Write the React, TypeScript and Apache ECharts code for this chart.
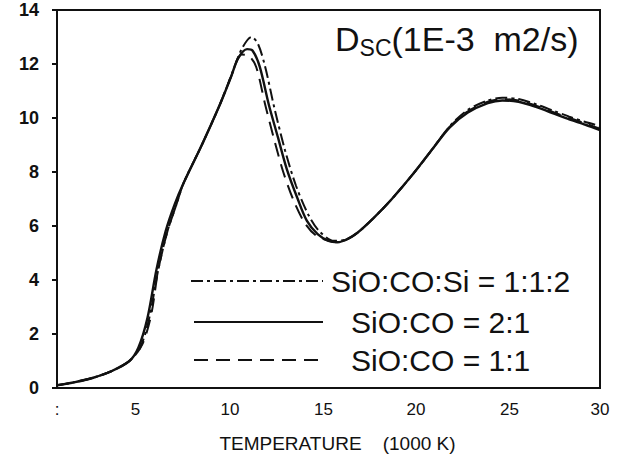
import React, { useEffect, useRef } from "react";
import * as echarts from "echarts";

// Temperature (1000 K) and Dsc (1E-3 m2/s)
const xSolid = [0, 1, 2, 3, 4, 4.5, 5, 5.5, 6, 6.5, 7, 8, 9, 9.6, 10, 10.5, 10.8, 11.2, 11.7, 12.2, 12.7, 13.3, 13.8, 14.4, 15, 15.5, 16, 16.6, 17.5, 18.5, 19.7, 20.8, 21.7, 22.7, 23.8, 24.6, 25.5, 26.5, 27.5, 28.3, 29.2, 30];
const ySolid = [0.1, 0.22, 0.38, 0.62, 1.0, 1.5, 2.6, 4.4, 5.8, 6.8, 7.6, 9.0, 10.5, 11.5, 12.2, 12.55, 12.5, 11.9, 10.5, 9.3, 8.1, 7.0, 6.2, 5.7, 5.45, 5.4, 5.5, 5.75, 6.3, 7.0, 7.95, 8.9, 9.65, 10.2, 10.55, 10.65, 10.6, 10.4, 10.15, 9.95, 9.75, 9.55];

const xDashDot = [0, 1, 2, 3, 4, 4.6, 5.1, 5.6, 6.1, 6.6, 7, 8, 9, 9.7, 10.2, 10.75, 11.1, 11.5, 12.0, 12.6, 13.2, 13.9, 14.5, 15.3, 16, 16.6, 17.5, 18.5, 19.7, 20.8, 21.7, 22.7, 23.8, 24.6, 25.5, 26.5, 27.5, 28.3, 29.2, 30];
const yDashDot = [0.1, 0.22, 0.38, 0.62, 1.0, 1.5, 2.6, 4.4, 5.8, 6.8, 7.6, 9.0, 10.5, 11.7, 12.55, 13.0, 12.75, 11.9, 10.4, 8.8, 7.5, 6.4, 5.8, 5.45, 5.5, 5.75, 6.3, 7.0, 7.95, 8.9, 9.7, 10.3, 10.65, 10.75, 10.7, 10.5, 10.25, 10.05, 9.85, 9.7];

const xDashed = [0, 1, 2, 3, 4, 4.7, 5.2, 5.6, 6.1, 6.6, 7, 8, 9, 9.6, 10.2, 10.6, 11.0, 11.5, 12.0, 12.5, 13.1, 13.7, 14.3, 15, 15.5, 16, 16.6, 17.5, 18.5, 19.7, 20.8, 21.7, 22.7, 23.8, 24.6, 25.5, 26.5, 27.5, 28.3, 29.2, 30];
const yDashed = [0.1, 0.22, 0.38, 0.62, 1.0, 1.6, 2.7, 4.4, 5.8, 6.8, 7.6, 9.0, 10.5, 11.5, 12.35, 12.3, 11.9, 10.5, 9.2, 8.0, 6.9, 6.1, 5.65, 5.45, 5.4, 5.5, 5.75, 6.3, 7.0, 7.95, 8.9, 9.68, 10.25, 10.6, 10.7, 10.65, 10.45, 10.2, 10.0, 9.8, 9.6];

const seriesNames = ["SiO:CO:Si = 1:1:2", "SiO:CO = 2:1", "SiO:CO = 1:1"];
const xTicks = [0, 5, 10, 15, 20, 25, 30];
const xTickLabels = [":", "5", "10", "15", "20", "25", "30"];
const yTicks = [0, 2, 4, 6, 8, 10, 12, 14];
const xAxisTitle = "TEMPERATURE    (1000 K)";

const zip = (xs: number[], ys: number[]) => xs.map((x, i) => [x, ys[i]]);

export default function App() {
  const ref = useRef<HTMLDivElement>(null);
  useEffect(() => {
    if (!ref.current) return;
    const chart = echarts.init(ref.current, undefined, { renderer: "svg" });
    const font = "'Liberation Sans', Arial, Helvetica, sans-serif";
    const ink = "#111";
    // small leftward nudges of the scanned tick labels (px)
    const labelShift = [0, 12, 8, 5, 3, 0, 0];
    const rich: Record<string, any> = {};
    labelShift.forEach((s, i) => {
      rich["t" + i] = { fontSize: 17, color: ink, fontFamily: font, padding: [0, s * 2, 0, 0] };
    });
    const legendBase = (name: string, left: number, top: number, width: number, padLeft: number) => ({
      orient: "vertical",
      left,
      top,
      padding: 0,
      itemWidth: width,
      itemHeight: 14,
      data: [name],
      itemStyle: { opacity: 0, borderWidth: 0 },
      textStyle: {
        fontSize: 30,
        color: ink,
        fontFamily: font,
        padding: [0, 0, 0, padLeft],
      },
    });
    chart.setOption({
      animation: false,
      backgroundColor: "#fff",
      textStyle: { fontFamily: font },
      grid: {
        left: 57,
        right: 20,
        top: 10,
        bottom: 70,
        show: true,
        borderColor: ink,
        borderWidth: 2,
      },
      legend: [
        legendBase(seriesNames[0], 190, 266, 132, 3),
        legendBase(seriesNames[1], 193, 307, 129, 23),
        legendBase(seriesNames[2], 193, 345, 129, 23),
      ],
      xAxis: {
        type: "value",
        min: 0,
        max: 30,
        interval: 5,
        name: xAxisTitle,
        nameLocation: "middle",
        nameGap: 46,
        nameTextStyle: { fontSize: 19, color: ink, fontFamily: font, padding: [0, 0, 0, 18] },
        axisLine: { lineStyle: { color: ink, width: 2 } },
        axisTick: { show: false },
        splitLine: { show: false },
        axisLabel: {
          fontSize: 17,
          color: ink,
          margin: 13,
          rich,
          formatter: (v: number) => {
            const i = xTicks.indexOf(v);
            return i < 0 ? String(v) : `{t${i}|${xTickLabels[i]}}`;
          },
        },
      },
      yAxis: {
        type: "value",
        min: yTicks[0],
        max: yTicks[yTicks.length - 1],
        interval: 2,
        axisLine: { lineStyle: { color: ink, width: 2 } },
        axisTick: { show: true, inside: false, length: 5, lineStyle: { color: ink, width: 2 } },
        splitLine: { show: false },
        axisLabel: { fontSize: 18, fontWeight: "bold", color: ink, margin: 18 },
      },
      graphic: [
        {
          type: "text",
          left: 335,
          top: 22,
          style: {
            text: "{a|D}{b|SC}{a|(1E-3  m2/s)}",
            fill: ink,
            rich: {
              a: { fontSize: 34, fontFamily: font, fill: ink, lineHeight: 40 },
              b: { fontSize: 23, fontFamily: font, fill: ink, verticalAlign: "bottom", lineHeight: 40, padding: [12, 0, 0, 0] },
            },
          },
        },
      ],
      series: [
        {
          name: seriesNames[0],
          type: "line",
          data: zip(xDashDot, yDashDot),
          showSymbol: false,
          symbol: "none",
          smooth: 0.3,
          lineStyle: { color: ink, width: 2, type: [12, 4, 3, 4] },
          itemStyle: { color: ink },
        },
        {
          name: seriesNames[1],
          type: "line",
          data: zip(xSolid, ySolid),
          showSymbol: false,
          symbol: "none",
          smooth: 0.3,
          lineStyle: { color: ink, width: 2.4, type: "solid" },
          itemStyle: { color: ink },
        },
        {
          name: seriesNames[2],
          type: "line",
          data: zip(xDashed, yDashed),
          showSymbol: false,
          symbol: "none",
          smooth: 0.3,
          lineStyle: { color: ink, width: 2, type: [14, 8] },
          itemStyle: { color: ink },
        },
      ],
    });
    return () => chart.dispose();
  }, []);
  return (
    <div
      ref={ref}
      style={{ position: "fixed", left: 0, top: 0, width: 620, height: 458, background: "#fff" }}
    />
  );
}
